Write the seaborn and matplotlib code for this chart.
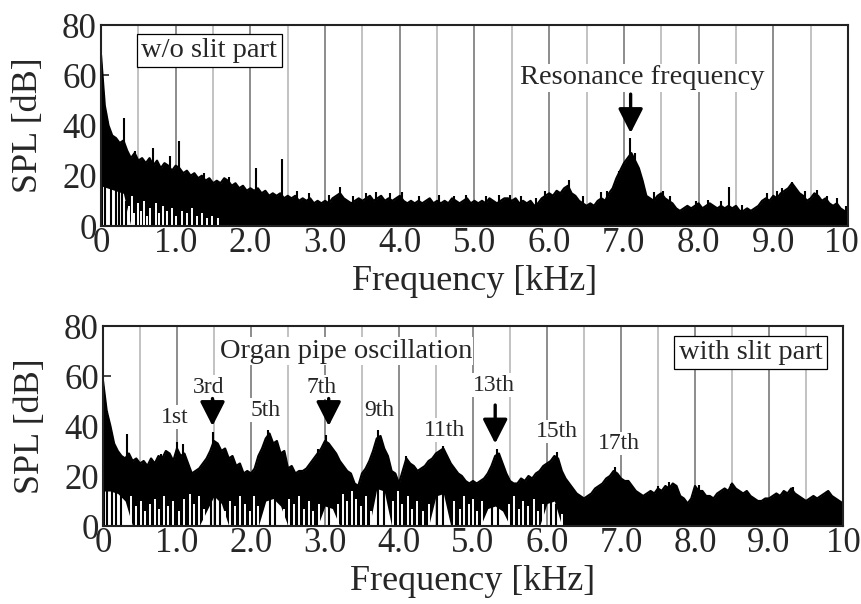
import numpy as np
import pandas as pd
import matplotlib
matplotlib.use("Agg")
import matplotlib.pyplot as plt
import matplotlib.transforms as mtransforms
import seaborn as sns

# ---------------------------------------------------------------------------
# Spectrum data
# Upper envelopes sampled every 0.05 kHz (0 .. 10 kHz, 201 values)
# ---------------------------------------------------------------------------
upper_no_slit = [
    68, 48, 40, 36, 35, 33, 34, 30, 27, 29,
    26, 27, 25, 27, 24, 26, 23, 25, 24, 22,
    24, 23, 21, 22, 20, 21, 19, 20, 18, 19,
    17, 18, 17, 19, 18, 16, 17, 15, 16, 14,
    15, 14, 15, 13, 14, 12, 13, 12, 13, 11,
    12, 11, 12, 10, 11, 10, 11, 9, 10, 9,
    10, 9, 11, 12, 13, 11, 10, 9, 10, 11,
    10, 11, 12, 10, 11, 12, 10, 11, 10, 11,
    12, 10, 9, 10, 9, 10, 9, 10, 11, 9,
    10, 9, 10, 9, 11, 10, 9, 10, 11, 9,
    10, 9, 10, 9, 11, 10, 9, 10, 11, 11,
    10, 11, 9, 10, 9, 10, 8, 9, 11, 12,
    13, 12, 14, 13, 15, 16, 13, 12, 10, 9,
    8, 9, 8, 10, 11, 10, 13, 15, 19, 22,
    25, 27, 29, 26, 23, 18, 12, 11, 10, 12,
    13, 11, 10, 9, 7, 6, 7, 8, 7, 8,
    9, 7, 8, 9, 8, 7, 8, 7, 8, 7,
    8, 6, 6, 7, 6, 7, 8, 10, 11, 10,
    12, 11, 13, 14, 15, 17, 15, 13, 12, 10,
    11, 13, 12, 10, 11, 9, 8, 9, 7, 6,
    4,
]
upper_slit = [
    58, 46, 40, 33, 30, 28, 27, 29, 26, 27,
    25, 26, 24, 27, 25, 28, 27, 30, 29, 26,
    31, 28, 29, 25, 21, 22, 23, 25, 27, 30,
    34, 33, 30, 31, 27, 28, 24, 25, 21, 22,
    21, 23, 28, 31, 35, 37, 33, 34, 29, 30,
    23, 24, 21, 22, 22, 23, 25, 27, 29, 31,
    34, 33, 31, 29, 26, 24, 22, 21, 17, 16,
    21, 23, 26, 30, 35, 36, 31, 28, 22, 21,
    17, 22, 27, 25, 24, 22, 23, 24, 26, 27,
    29, 30, 31, 28, 25, 23, 21, 20, 18, 17,
    18, 17, 18, 19, 21, 24, 28, 29, 25, 21,
    18, 17, 17, 19, 18, 20, 19, 21, 22, 24,
    25, 26, 28, 27, 22, 19, 17, 15, 13, 12,
    11, 12, 13, 15, 16, 17, 19, 20, 22, 21,
    19, 18, 18, 16, 14, 13, 12, 13, 14, 13,
    15, 14, 16, 15, 17, 16, 12, 11, 9, 11,
    16, 14, 14, 12, 12, 11, 13, 14, 15, 14,
    17, 15, 14, 13, 14, 12, 11, 10, 10, 11,
    11, 12, 13, 12, 14, 13, 15, 13, 12, 11,
    10, 11, 12, 11, 12, 13, 14, 12, 11, 10,
    9,
]

# Lower edge of the dense band, every 0.1 kHz (0 .. 10 kHz, 101 values);
# below it the spectrum is mostly empty
lower_no_slit = [16, 15, 14, 13] + [0] * 97
lower_slit = [
    14, 14, 13, 10, 0, 0, 0, 0, 0, 0,
    0, 0, 0, 0, 6, 12, 9, 0, 0, 0,
    0, 0, 10, 11, 8, 0, 0, 0, 0, 0,
    8, 7, 0, 0, 0, 0, 0, 15, 14, 0,
    0, 0, 0, 0, 0, 12, 13, 0, 0, 0,
    0, 0, 7, 8, 6, 0, 0, 0, 0, 0,
    9, 10] + [0] * 39

# Narrow spectral lines above the envelope: (kHz, dB)
spike_f_no_slit = [0.02, 0.04, 0.07, 0.31, 0.45, 0.69, 0.92, 1.05, 1.38, 1.72,
                   2.08, 2.42, 2.62, 2.78, 3.05, 3.2, 3.38, 3.55, 3.68, 3.87,
                   4.03, 4.26, 4.52, 4.72, 4.88, 5.15, 5.33, 5.47, 5.62, 5.82,
                   5.95, 6.26, 6.45, 6.7, 6.78, 6.93, 7.08, 7.15, 7.4, 7.52,
                   7.62, 7.97, 8.13, 8.3, 8.41, 8.58, 8.92, 9.05, 9.12, 9.25,
                   9.42, 9.58, 9.72, 9.85, 9.97]
spike_v_no_slit = [55, 52, 45, 43, 30, 31, 28, 34, 21, 19.5,
                   23, 26.5, 14, 13, 12.5, 15.5, 12, 13, 13.5, 13,
                   13.5, 12, 12.5, 12, 12.5, 12, 12.5, 12.5, 12, 11,
                   14, 18.5, 12, 13.5, 14, 22, 35, 29, 13.5, 14,
                   12, 10, 10.5, 10, 15.5, 8.5, 13, 14, 15, 17.5,
                   14, 14.5, 12, 11, 8]
spike_f_slit = [0.02, 0.05, 0.32, 0.78, 1.0, 1.08, 1.49, 2.23, 2.9, 3.02,
                3.72, 4.09, 4.59, 5.33, 6.13, 6.92, 7.5, 7.65, 8.05, 8.48,
                9.2, 9.33, 9.78]
spike_v_slit = [52, 46, 37, 29, 33.5, 33, 37.5, 38.5, 31, 36.5,
                38.5, 28, 32, 31, 29.5, 23.5, 16, 17.5, 16.5, 17,
                14, 15.5, 14]

# Drops to the baseline inside the empty zones below the band [kHz]
drop_f_no_slit = [0.005, 0.02, 0.05, 0.13, 0.2, 0.24, 0.28, 0.33]
drop_f_slit = [0.005, 0.02, 0.06, 0.12, 0.18, 0.24, 1.46, 1.52, 1.58, 2.26,
               2.33, 3.06, 3.72, 3.8, 4.52, 4.6, 5.26, 5.34, 6.06, 6.12]

# Narrow gaps inside the dense band: (kHz, gap top in dB)
gap_f_no_slit = [0.37, 0.41, 0.44, 0.49, 0.53, 0.58, 0.62, 0.66, 0.73, 0.78,
                 0.83, 0.88, 0.95, 1.0, 1.09, 1.15, 1.22, 1.28, 1.35, 1.42,
                 1.48, 1.56]
gap_v_no_slit = [8, 12, 5, 9, 6, 10, 4, 7, 9, 5,
                 8, 6, 7, 4, 6, 5, 7, 4, 5, 3,
                 4, 3]
gap_f_slit = [0.38, 0.45, 0.52, 0.57, 0.63, 0.7, 0.76, 0.82, 0.88, 0.95,
              1.03, 1.1, 1.17, 1.23, 1.3, 1.36, 1.65, 1.72, 1.78, 1.85,
              1.92, 1.98, 2.04, 2.1, 2.45, 2.52, 2.58, 2.65, 2.72, 2.78,
              2.84, 2.92, 3.18, 3.24, 3.3, 3.36, 3.42, 3.48, 3.55, 3.62,
              3.92, 3.98, 4.04, 4.12, 4.18, 4.25, 4.32, 4.4, 4.75, 4.82,
              4.88, 4.94, 5.0, 5.06, 5.12, 5.48, 5.55, 5.62, 5.68, 5.75,
              5.82, 5.88, 5.94, 6.2]
gap_v_slit = [12, 8, 10, 6, 9, 11, 7, 12, 8, 10,
              6, 11, 13, 9, 12, 7, 6, 10, 8, 12,
              9, 6, 12, 8, 7, 11, 9, 12, 7, 10,
              6, 9, 9, 13, 10, 14, 11, 8, 12, 6,
              10, 14, 9, 12, 7, 10, 6, 9, 10, 7,
              12, 9, 11, 6, 10, 9, 12, 7, 10, 8,
              11, 6, 9, 5]

# Annotations
harmonic_names = ["1st", "3rd", "5th", "7th", "9th", "11th", "13th", "15th", "17th"]
harmonic_x = [0.97, 1.43, 2.2, 2.96, 3.73, 4.61, 5.28, 6.13, 6.97]
harmonic_y = [43.6, 55.6, 46.4, 55.6, 46.4, 38.4, 56.4, 37.8, 33.0]
arrow_x_slit = [1.48, 3.05, 5.3]
arrow_tail_slit = [51, 51, 48.4]
arrow_tip_slit = [40, 40, 33]

x_ticks = [0, 1, 2, 3, 4, 5, 6, 7, 8, 9, 10]
x_tick_labels = ["0", "1.0", "2.0", "3.0", "4.0", "5.0", "6.0", "7.0", "8.0", "9.0", "10"]
y_ticks = [0, 20, 40, 60, 80]

# ---------------------------------------------------------------------------
sns.set_style("white")
plt.rcParams["font.family"] = ["Liberation Serif", "DejaVu Serif"]

fig = plt.figure(figsize=(8.61, 6.04), dpi=100)
ax_top = fig.add_axes([0.1173, 0.6258, 0.8676, 0.3328])
ax_bot = fig.add_axes([0.1196, 0.1291, 0.8595, 0.3311])

major_grid = "#8c8c8c"
minor_grid = "#c2c2c2"


def draw_spectrum(ax, upper, lower, spike_f, spike_v, drop_f, gap_f, gap_v):
    fine = pd.DataFrame({"f": np.round(np.arange(len(upper)) * 0.05, 2),
                         "spl": upper})
    coarse_f = np.round(np.arange(len(lower)) * 0.1, 1)
    floor = np.interp(fine["f"], coarse_f, lower)
    ax.fill_between(fine["f"], floor, fine["spl"], color="black",
                    linewidth=0, zorder=3)
    sns.lineplot(data=fine, x="f", y="spl", ax=ax, color="black",
                 linewidth=1.6, zorder=4)
    # tall narrow lines over the envelope
    base = np.interp(spike_f, fine["f"], fine["spl"]) - 3
    ax.vlines(spike_f, base, spike_v, color="black", linewidth=1.5, zorder=4)
    # narrow gaps in the band
    ax.vlines(gap_f, 0.6, gap_v, color="white", linewidth=1.4, zorder=4.5)
    # drops to the baseline under the empty zones
    top = np.interp(drop_f, coarse_f, lower)
    ax.vlines(drop_f, 0, top + 1, color="black", linewidth=1.5, zorder=4.6)


def style_axes(ax):
    ax.set_xlim(0, 10)
    ax.set_ylim(0, 80)
    ax.set_xticks(x_ticks)
    ax.set_xticklabels(x_tick_labels)
    ax.set_xticks(np.arange(0.5, 10, 1.0), minor=True)
    ax.set_yticks(y_ticks)
    ax.tick_params(axis="x", which="both", length=0, pad=1, labelsize=25)
    ax.tick_params(axis="y", direction="in", length=6, width=1.2, pad=3,
                   labelsize=25, left=True)
    ax.grid(axis="x", which="major", color=major_grid, linewidth=1.4, zorder=0)
    ax.grid(axis="x", which="minor", color=minor_grid, linewidth=1.4, zorder=0)
    ax.grid(axis="y", visible=False)
    ax.set_axisbelow(True)
    for s in ax.spines.values():
        s.set_color("#222222")
        s.set_linewidth(1.5)
        s.set_zorder(6)
    ax.set_xlabel("Frequency [kHz]", fontsize=26, labelpad=3)
    ax.set_ylabel("SPL [dB]", fontsize=26, labelpad=12)


draw_spectrum(ax_top, upper_no_slit, lower_no_slit, spike_f_no_slit,
              spike_v_no_slit, drop_f_no_slit, gap_f_no_slit, gap_v_no_slit)
draw_spectrum(ax_bot, upper_slit, lower_slit, spike_f_slit, spike_v_slit,
              drop_f_slit, gap_f_slit, gap_v_slit)
style_axes(ax_top)
style_axes(ax_bot)

label_box = dict(facecolor="white", edgecolor="black", linewidth=0.9, pad=3)
plain_box = dict(facecolor="white", edgecolor="none", pad=1)
arrow_kw = dict(arrowstyle="-|>,head_length=0.55,head_width=0.28",
                color="black", lw=2.4, mutation_scale=27, shrinkA=0, shrinkB=0)

# upper panel
ax_top.text(1.45, 69.9, "w/o slit part", fontsize=20.5, ha="center",
            va="center", bbox=label_box, zorder=7)
ax_top.text(7.24, 59.0, "Resonance frequency", fontsize=20.5, ha="center",
            va="center", bbox=plain_box, zorder=5)
ax_top.annotate("", xy=(7.09, 37), xytext=(7.09, 52.5), arrowprops=arrow_kw,
                zorder=5)

# lower panel
ax_bot.text(8.75, 69.4, "with slit part", fontsize=20.5, ha="center",
            va="center", bbox=label_box, zorder=7)
ax_bot.text(3.28, 70.0, "Organ pipe oscillation", fontsize=20.5, ha="center",
            va="center", bbox=plain_box, zorder=5)
for name, hx, hy in zip(harmonic_names, harmonic_x, harmonic_y):
    ax_bot.text(hx, hy, name, fontsize=17, ha="center", va="center",
                bbox=plain_box, zorder=5)
for ax_x, tail, tip in zip(arrow_x_slit, arrow_tail_slit, arrow_tip_slit):
    ax_bot.annotate("", xy=(ax_x, tip), xytext=(ax_x, tail),
                    arrowprops=arrow_kw, zorder=5)

# keep the last tick label of the upper panel inside the figure
last = ax_top.get_xticklabels()[-1]
last.set_transform(last.get_transform()
                   + mtransforms.ScaledTranslation(-0.065, 0, fig.dpi_scale_trans))

fig.savefig("out.png", dpi=100, facecolor="white")
